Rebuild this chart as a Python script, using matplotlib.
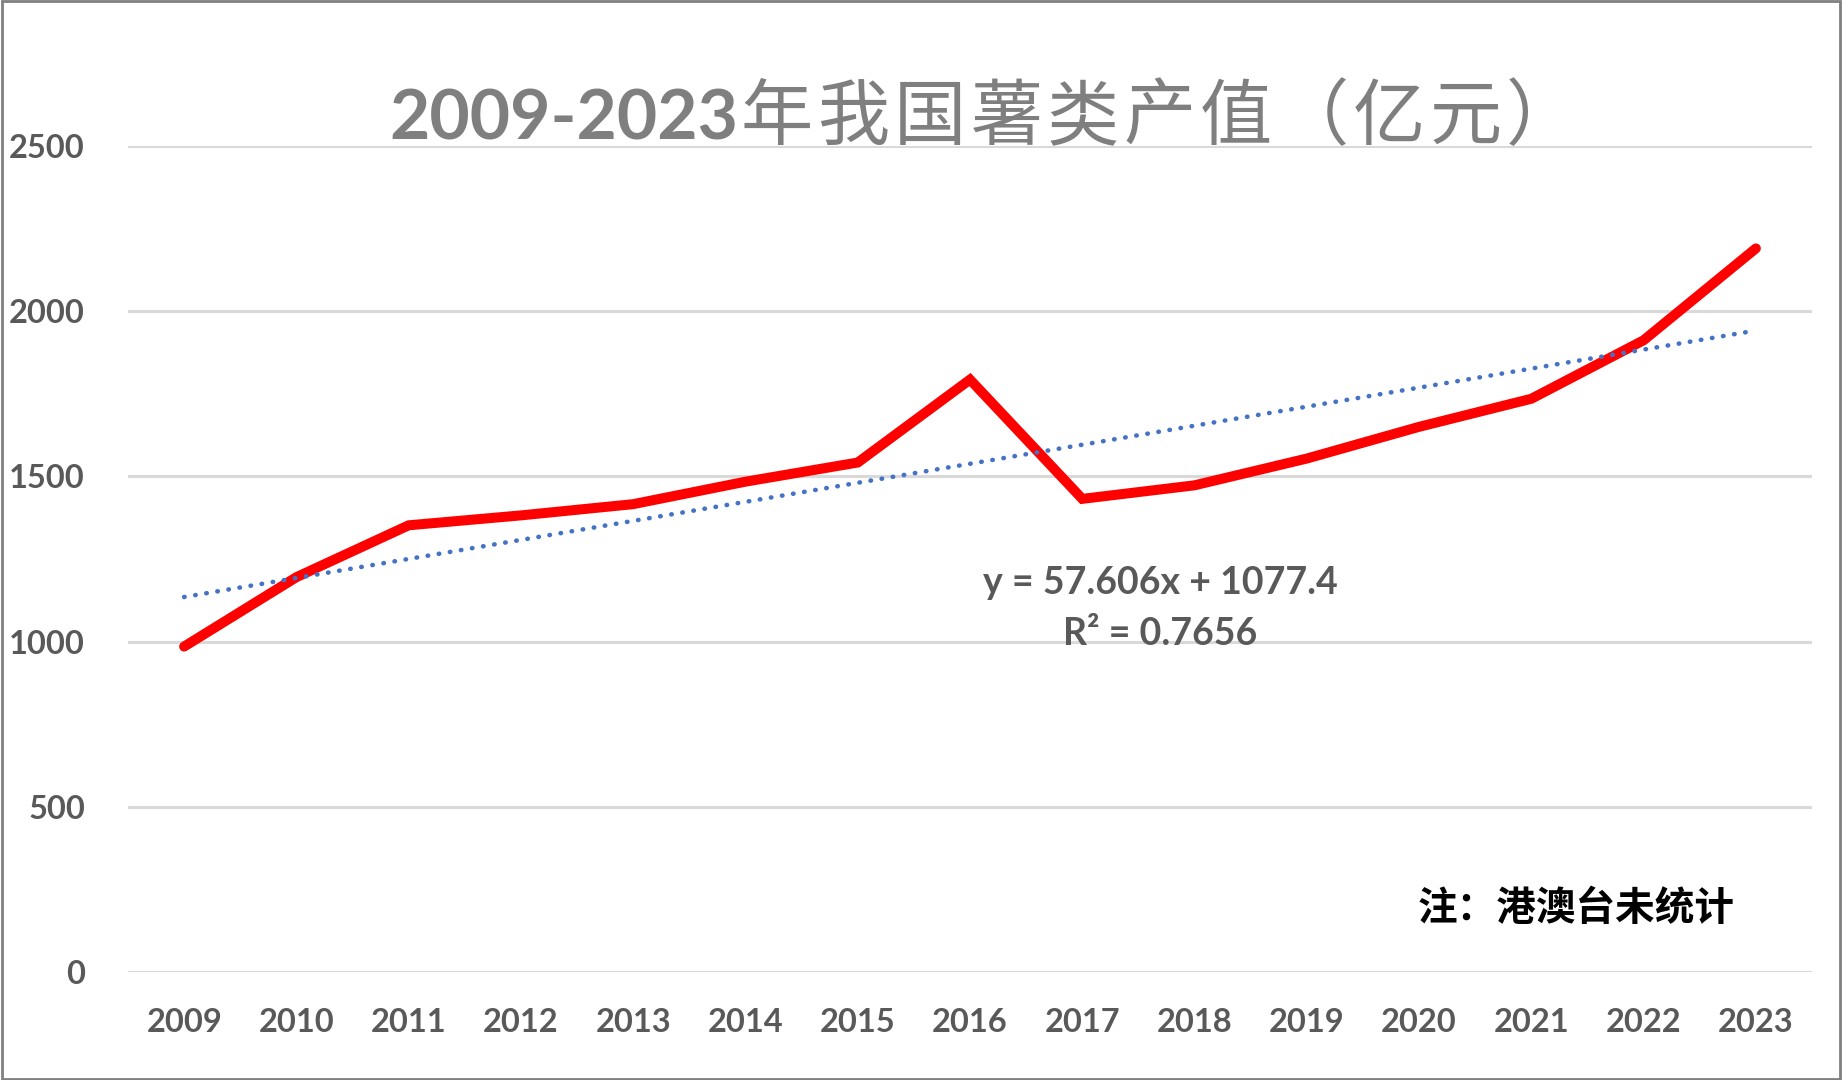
import matplotlib
matplotlib.use('Agg')
import numpy as np
import matplotlib.pyplot as plt
from matplotlib.patches import Rectangle

# 2009-2023年 薯类产值（亿元）
years = ['2009', '2010', '2011', '2012', '2013', '2014', '2015', '2016',
         '2017', '2018', '2019', '2020', '2021', '2022', '2023']
values = [985, 1195, 1352, 1382, 1416, 1484, 1542, 1793,
          1432, 1473, 1554, 1650, 1735, 1912, 2190]
y_ticks = [0, 500, 1000, 1500, 2000, 2500]

# Excel 线性趋势线 (x = 1..15)
slope = 57.606
intercept = 1077.4
r2 = 0.7656

title_num = '2009-2023'
title_cn = '年我国薯类产值（亿元）'
note = '注：港澳台未统计'

GRAY_TXT = '#595959'
W, H = 1842, 1080

fig = plt.figure(figsize=(W / 100, H / 100), dpi=100)
ax = fig.add_axes([128 / W, 1 - 972 / H, (1812 - 128) / W, (972 - 146) / H])

x = np.arange(len(years))
ax.plot(x, values, color='#FF0000', linewidth=7.2,
        solid_capstyle='round', solid_joinstyle='miter', zorder=3)

xs = np.arange(1, len(years) + 1)
trend = slope * xs + intercept
ax.plot(x, trend, color='#4472C4', linewidth=3.3,
        linestyle=(0, (0.1, 2.35)), dash_capstyle='round', zorder=4)

ax.set_xlim(-0.5, len(years) - 0.5)
ax.set_ylim(0, 2500)
ax.set_yticks(y_ticks)
ax.set_xticks(x)
ax.set_xticklabels(years)
ax.grid(axis='y', color='#D9D9D9', linewidth=2.2)
ax.set_axisbelow(True)
for s in ax.spines.values():
    s.set_visible(False)
ax.tick_params(length=0, colors=GRAY_TXT, labelsize=23.5)
ax.tick_params(axis='y', pad=31)
ax.tick_params(axis='x', pad=26)
for lab in ax.get_xticklabels() + ax.get_yticklabels():
    lab.set_fontfamily('Lato')
    lab.set_fontweight('bold')
    lab.set_color(GRAY_TXT)

# 标题：数字粗体 + 中文常规（字距稍宽）
fig.text(738 / W, 1 - 139 / H, title_num, ha='right', va='baseline',
         fontsize=50, fontweight='bold', family=['Lato', 'DejaVu Sans'],
         color='#7F7F7F')
step = 76.5
for i, ch in enumerate(title_cn):
    fig.text((741 + i * step) / W, 1 - 139 / H, ch, ha='left', va='baseline',
             fontsize=52, family=['Noto Sans CJK SC', 'DejaVu Sans'],
             color='#7F7F7F')

# 趋势线公式
fig.text(1160 / W, 1 - 594 / H, f'y = {slope}x + {intercept}', ha='center',
         va='baseline', fontsize=27, fontweight='bold', family='Lato',
         color=GRAY_TXT)
fig.text(1160 / W, 1 - 645 / H, f'R² = {r2}', ha='center',
         va='baseline', fontsize=27, fontweight='bold', family='Lato',
         color=GRAY_TXT)

# 注释
fig.text(1418 / W, 1 - 908 / H, note, ha='left', va='center',
         fontsize=28.5, fontweight='bold', family=['Noto Sans CJK SC', 'DejaVu Sans'],
         color='black')

# 外边框
fig.patches.append(Rectangle((0.001, 0.001), 0.998, 0.998, transform=fig.transFigure,
                             fill=False, edgecolor='#808080', linewidth=2))

fig.savefig('out.png', dpi=100, facecolor='white')
